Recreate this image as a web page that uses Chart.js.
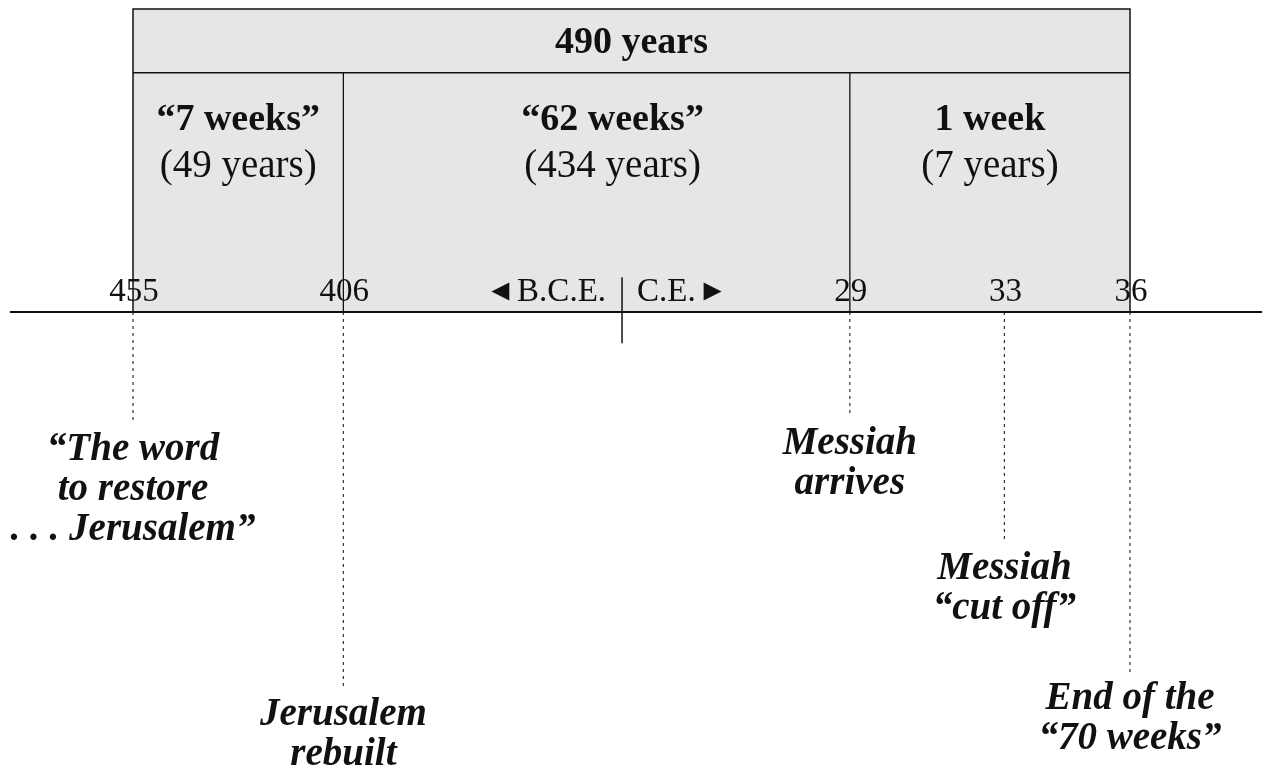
<!DOCTYPE html>
<html lang="en">
<head>
<meta charset="UTF-8">
<title>Seventy weeks timeline</title>
<script src="https://cdn.jsdelivr.net/npm/chart.js"></script>
<style>
    body { margin: 0; background: #fff; }
    canvas { display: block; }
</style>
</head>
<body>
<canvas id="timeline" width="1269" height="770"></canvas>

<script>
    // the diagram is schematic, not to scale: positions are timeline units (455 B.C.E. = 0, 36 C.E. = 100)
    var eventYears = ['455', '406', '29', '33', '36'];
    var eventPos = [0, 21.1, 71.9, 87.4, 100];
    var eventDrop = [3.65, 12.4, 3.45, 7.6, 11.9]; // length of the dotted leader below the axis
    var eventNotes = [
        ['\u201CThe word', 'to restore', '. . . Jerusalem\u201D'],
        ['Jerusalem', 'rebuilt'],
        ['Messiah', 'arrives'],
        ['Messiah', '\u201Ccut off\u201D'],
        ['End of the', '\u201C70 weeks\u201D']
    ];

    var periodTitles = ['\u201C7 weeks\u201D', '\u201C62 weeks\u201D', '1 week'];
    var periodSpans = ['(49 years)', '(434 years)', '(7 years)'];
    var periodStart = [0, 1, 2]; // index into eventPos
    var periodEnd = [1, 2, 4];
    var totalLabel = '490 years';

    var eraPos = 49.05;   // where B.C.E. turns into C.E.
    var eraLabels = ['B.C.E.', 'C.E.'];

    var boxTop = 10;
    var rowLevel = 7.9;

    var ink = '#111';
    var serif = '"Liberation Serif", "Times New Roman", serif';

    function seg(x1, y1, x2, y2) {
        return [{x: x1, y: y1}, {x: x2, y: y2}];
    }

    var datasets = [];

    // grey box with its outline, filled down to the axis
    datasets.push({
        data: [{x: eventPos[0], y: 0}, {x: eventPos[0], y: boxTop}, {x: eventPos[4], y: boxTop}, {x: eventPos[4], y: 0}],
        showLine: true, fill: 'origin', backgroundColor: '#e6e6e6',
        borderColor: ink, borderWidth: 1.5, pointRadius: 0, order: 9
    });
    // divider under "490 years"
    datasets.push({
        data: seg(eventPos[0], rowLevel, eventPos[4], rowLevel),
        showLine: true, borderColor: ink, borderWidth: 1.5, pointRadius: 0, order: 5
    });
    // dividers between the periods
    [1, 2].forEach(function (i) {
        datasets.push({
            data: seg(eventPos[i], 0, eventPos[i], rowLevel),
            showLine: true, borderColor: ink, borderWidth: 1.3, pointRadius: 0, order: 5
        });
    });
    // the time axis
    datasets.push({
        data: seg(-12.35, 0, 113.25, 0),
        showLine: true, borderColor: ink, borderWidth: 2, pointRadius: 0, order: 1
    });
    // B.C.E. / C.E. tick
    datasets.push({
        data: seg(eraPos, 1.15, eraPos, -1.03),
        showLine: true, borderColor: ink, borderWidth: 1.5, pointRadius: 0, order: 1
    });
    // dotted leaders to the notes
    eventPos.forEach(function (p, i) {
        datasets.push({
            data: seg(p, 0, p, -eventDrop[i]),
            showLine: true, borderColor: '#333', borderWidth: 1.2, borderDash: [3, 4],
            pointRadius: 0, order: 2
        });
    });

    var textPlugin = {
        id: 'timelineText',
        afterDatasetsDraw: function (chart) {
            var ctx = chart.ctx;
            var xs = chart.scales.x, ys = chart.scales.y;
            var axisY = ys.getPixelForValue(0);
            ctx.save();
            ctx.fillStyle = ink;
            ctx.textAlign = 'center';
            ctx.textBaseline = 'alphabetic';

            // header
            var left = xs.getPixelForValue(eventPos[0]);
            var right = xs.getPixelForValue(eventPos[4]);
            ctx.font = 'bold 38px ' + serif;
            ctx.fillText(totalLabel, (left + right) / 2, 53);

            // period cells
            var shift = [0, 16, 0];
            periodTitles.forEach(function (t, i) {
                var a = xs.getPixelForValue(eventPos[periodStart[i]]);
                var b = xs.getPixelForValue(eventPos[periodEnd[i]]);
                var cx = (a + b) / 2 + shift[i];
                ctx.font = 'bold 38px ' + serif;
                ctx.fillText(t, cx, 130);
                ctx.font = '39px ' + serif;
                ctx.fillText(periodSpans[i], cx, 177);
            });

            // year labels above the axis
            ctx.font = '33px ' + serif;
            eventYears.forEach(function (y, i) {
                ctx.fillText(y, xs.getPixelForValue(eventPos[i]) + 1, axisY - 11);
            });

            // era labels
            var ex = xs.getPixelForValue(eraPos);
            ctx.textAlign = 'right';
            ctx.fillText(eraLabels[0], ex - 16, axisY - 11);
            var bw = ctx.measureText(eraLabels[0]).width;
            ctx.textAlign = 'left';
            ctx.fillText(eraLabels[1], ex + 15, axisY - 11);
            var cw = ctx.measureText(eraLabels[1]).width;
            ctx.font = '30px ' + serif;
            ctx.textAlign = 'right';
            ctx.fillText('\u25C4', ex - 16 - bw - 2, axisY - 12);
            ctx.textAlign = 'left';
            ctx.fillText('\u25BA', ex + 15 + cw + 2, axisY - 12);

            // notes under the dotted leaders
            ctx.textAlign = 'center';
            ctx.font = 'italic bold 39px ' + serif;
            eventNotes.forEach(function (lines, i) {
                var x = xs.getPixelForValue(eventPos[i]);
                var y0 = ys.getPixelForValue(-eventDrop[i]) + 37;
                lines.forEach(function (line, k) {
                    ctx.fillText(line, x, y0 + k * 40);
                });
            });
            ctx.restore();
        }
    };

    var chart = new Chart(document.getElementById('timeline'), {
        type: 'scatter',
        data: {datasets: datasets},
        options: {
            responsive: false,
            animation: false,
            events: [],
            layout: {padding: 0},
            plugins: {legend: {display: false}, tooltip: {enabled: false}},
            scales: {
                x: {type: 'linear', min: -13.34, max: 113.94, display: false},
                y: {type: 'linear', min: -15.12, max: 10.3, display: false}
            }
        },
        plugins: [textPlugin]
    });
</script>
</body>
</html>
